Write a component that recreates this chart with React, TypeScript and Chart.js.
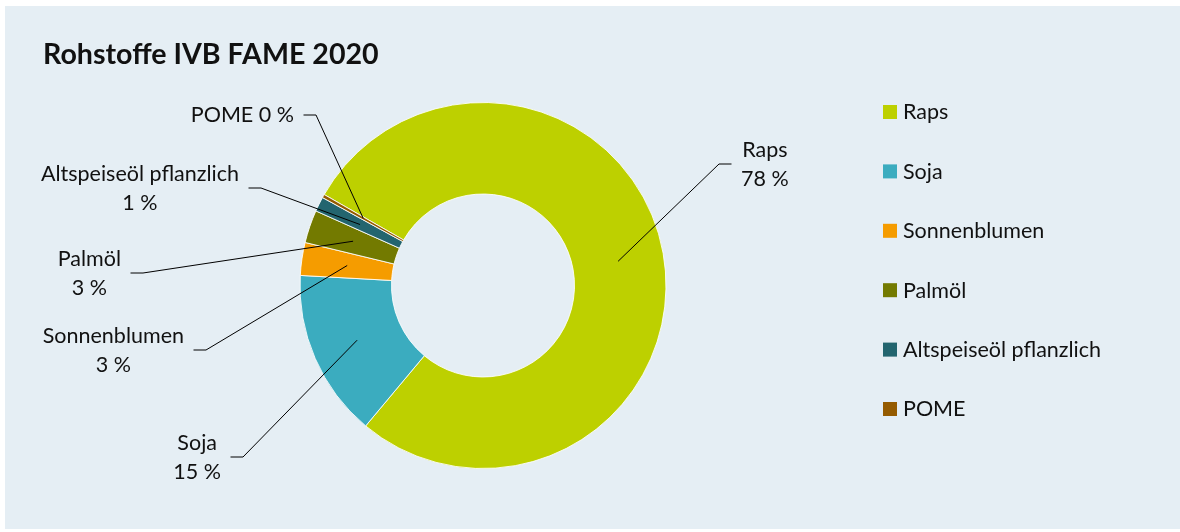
import React, { useEffect, useRef } from "react";
import { Chart, registerables } from "chart.js";

Chart.register(...registerables);

// ---- data ----
const chartTitle = "Rohstoffe IVB FAME 2020";
const categories = ["Raps", "Soja", "Sonnenblumen", "Palmöl", "Altspeiseöl pflanzlich", "POME"];
const shares = [77.8, 14.8, 2.9, 2.9, 1.3, 0.3];
const sliceColors = ["#BDD000", "#3BACBF", "#F59C00", "#737A00", "#23656F", "#955B00"];

// ---- layout of the outside labels (offset of leader-line elbow from the doughnut centre) ----
const labelLayout = [
  { dx: 236, dy: -121.5, side: 1, oneLine: false },
  { dx: -240, dy: 171.5, side: -1, oneLine: false },
  { dx: -277, dy: 64.5, side: -1, oneLine: false },
  { dx: -340, dy: -12.5, side: -1, oneLine: false },
  { dx: -222, dy: -97.5, side: -1, oneLine: false },
  { dx: -167, dy: -170.5, side: -1, oneLine: true },
];

const FONT = "Lato, 'Noto Sans', sans-serif";
const LABEL_SIZE = 21.5;
const TITLE_SIZE = 28.6;
const TEXT_COLOR = "#111111";

const decorPlugin = {
  id: "decor",
  afterDraw(chart: any) {
    const ctx: CanvasRenderingContext2D = chart.ctx;
    const meta = chart.getDatasetMeta(0);
    const arcs = meta.data;
    if (!arcs.length) return;
    const cx = arcs[0].x;
    const cy = arcs[0].y;
    ctx.save();

    // title
    ctx.fillStyle = TEXT_COLOR;
    ctx.font = `bold ${TITLE_SIZE}px ${FONT}`;
    ctx.textAlign = "left";
    ctx.textBaseline = "alphabetic";
    ctx.fillText(chartTitle, 43, 63.5);

    // leader lines and labels
    ctx.font = `${LABEL_SIZE}px ${FONT}`;
    ctx.textBaseline = "middle";
    arcs.forEach((arc: any, i: number) => {
      const lay = labelLayout[i];
      const p = arc.tooltipPosition();
      const ex = cx + lay.dx;
      const ey = cy + lay.dy;
      const tx = ex + lay.side * 12.5;
      ctx.strokeStyle = "#000000";
      ctx.lineWidth = 1;
      ctx.beginPath();
      ctx.moveTo(p.x, p.y);
      ctx.lineTo(ex, ey);
      ctx.lineTo(tx, ey);
      ctx.stroke();

      const pct = `${Math.round(shares[i])} %`;
      const lines = lay.oneLine ? [`${categories[i]} ${pct}`] : [categories[i], pct];
      const w = Math.max(...lines.map((l) => ctx.measureText(l).width));
      const gap = 9.5;
      const centerX = lay.side > 0 ? tx + gap + w / 2 : tx - gap - w / 2;
      ctx.fillStyle = TEXT_COLOR;
      ctx.textAlign = "center";
      if (lines.length === 1) {
        ctx.fillText(lines[0], centerX, ey + 0.5);
      } else {
        ctx.fillText(lines[0], centerX, ey - 14);
        ctx.fillText(lines[1], centerX, ey + 15.5);
      }
    });

    // legend
    const legX = 883;
    const legY0 = 112;
    const legStep = 59.4;
    categories.forEach((name, i) => {
      const y = legY0 + i * legStep;
      ctx.fillStyle = sliceColors[i];
      ctx.fillRect(legX, y - 7, 14, 14);
      ctx.fillStyle = TEXT_COLOR;
      ctx.textAlign = "left";
      ctx.textBaseline = "middle";
      ctx.fillText(name, legX + 20, y + 0.5);
    });
    ctx.restore();
  },
};

export default function App() {
  const canvasRef = useRef<HTMLCanvasElement | null>(null);

  useEffect(() => {
    const canvas = canvasRef.current;
    if (!canvas) return;
    const chart = new Chart(canvas, {
      type: "doughnut",
      data: {
        labels: categories,
        datasets: [
          {
            data: shares,
            backgroundColor: sliceColors,
            borderColor: "rgba(255,255,255,0.85)",
            borderWidth: 1,
            hoverOffset: 0,
          },
        ],
      },
      options: {
        responsive: false,
        animation: false,
        rotation: -60.2,
        radius: 183,
        cutout: "50%",
        layout: { padding: { left: 100, right: 314, top: 80, bottom: 41 } },
        plugins: {
          legend: { display: false },
          title: { display: false },
          tooltip: { enabled: false },
        },
      } as any,
      plugins: [decorPlugin],
    });
    return () => chart.destroy();
  }, []);

  return (
    <div
      style={{
        position: "fixed",
        left: 0,
        top: 0,
        width: 1180,
        height: 532,
        background: "#ffffff",
      }}
    >
      <div
        style={{
          position: "absolute",
          left: 5,
          top: 6,
          width: 1175,
          height: 523,
          background: "#E5EEF4",
        }}
      />
      <canvas
        ref={canvasRef}
        width={1180}
        height={532}
        style={{ position: "absolute", left: 0, top: 0, width: 1180, height: 532 }}
      />
    </div>
  );
}
